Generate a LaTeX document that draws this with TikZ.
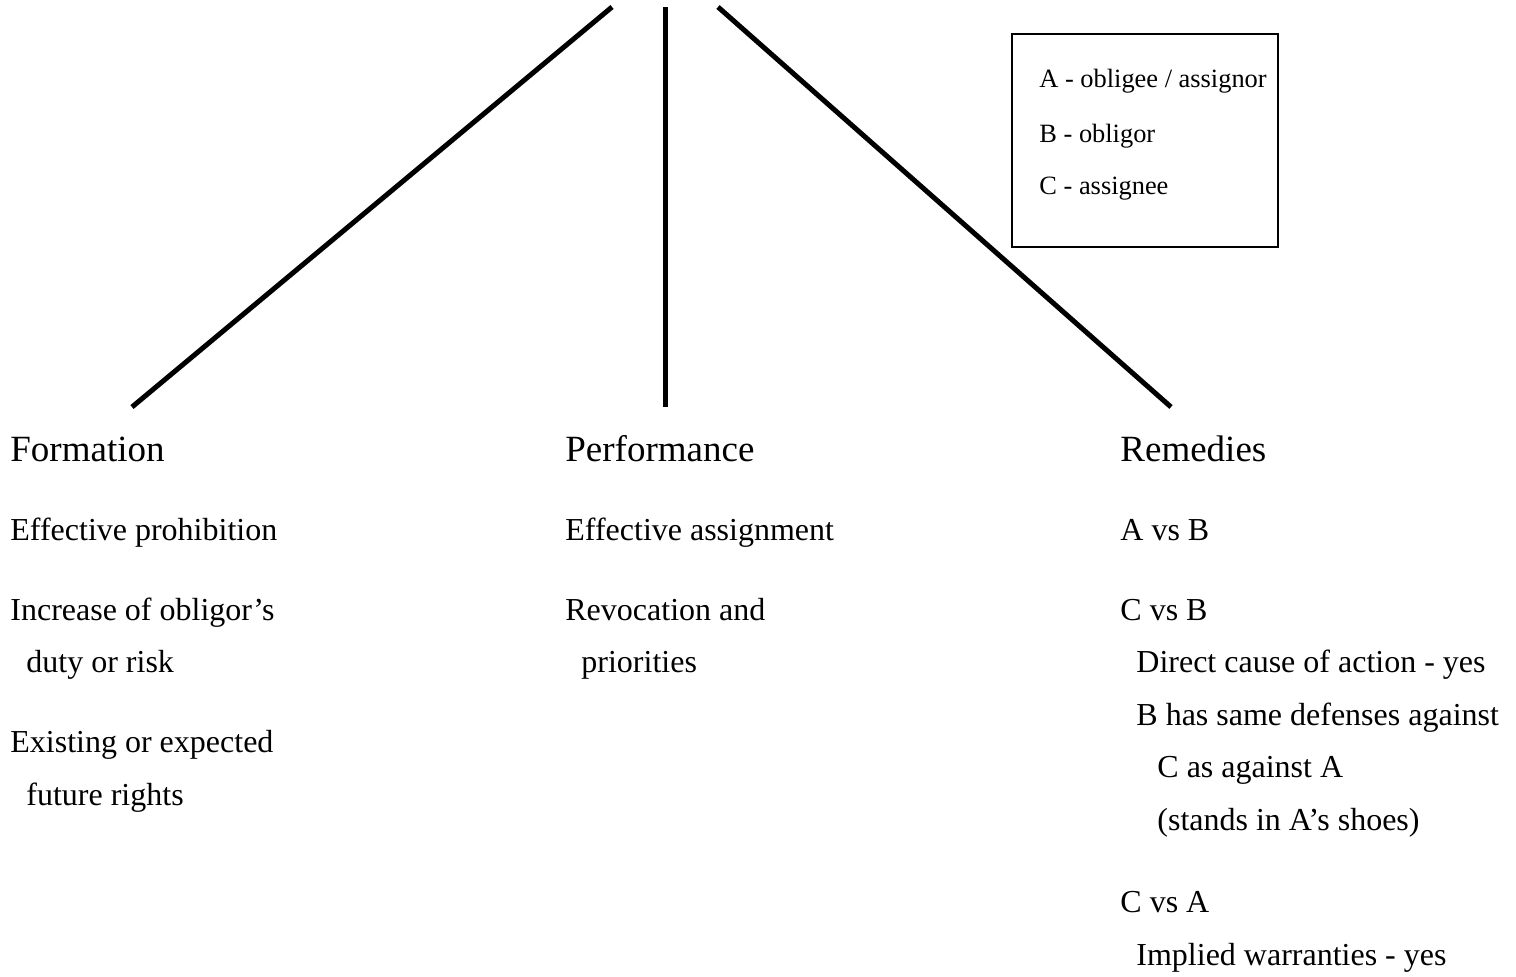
\documentclass[tikz,border=0pt]{standalone}
\usepackage{fontspec}
\setmainfont{Liberation Serif}
\begin{document}
\begin{tikzpicture}[x=0.5pt,y=-0.5pt,
  branch/.style={line width=2.5pt,line cap=butt},
  head/.style={anchor=base west,inner sep=0pt,font=\fontsize{18.5pt}{22pt}\selectfont},
  item/.style={anchor=base west,inner sep=0pt,font=\fontsize{16pt}{19pt}\selectfont},
  key/.style={anchor=base west,inner sep=0pt,font=\fontsize{13.2pt}{16pt}\selectfont},
  keybox/.style={draw,line width=1.2pt,inner sep=0pt,minimum width=133pt,minimum height=106.5pt}]
\useasboundingbox (0,0) rectangle (1516,976);
% branch lines
\coordinate (lt) at (612,7);
\coordinate (lb) at (132,407);
\coordinate (mt) at (665,7);
\coordinate (mb) at (665,407);
\coordinate (rt) at (718,7);
\coordinate (rb) at (1171,407);
\draw[branch] (lt) -- (lb);
\draw[branch] (mt) -- (mb);
\draw[branch] (rt) -- (rb);
% legend
\node[keybox] (legend) at (1145,140.5) {};
\node[key] (ka) at (1039,87) {A - obligee / assignor};
\node[key] (kb) at (1039,142) {B - obligor};
\node[key] (kc) at (1039,194) {C - assignee};
% Formation
\node[head] (form) at (10,461) {Formation};
\node[item] (f1) at (10,540) {Effective prohibition};
\node[item] (f2) at (10,620) {Increase of obligor’s};
\node[item] (f2b) at (26,672) {duty or risk};
\node[item] (f3) at (10,752) {Existing or expected};
\node[item] (f3b) at (26,805) {future rights};
% Performance
\node[head] (perf) at (565,461) {Performance};
\node[item] (p1) at (565,540) {Effective assignment};
\node[item] (p2) at (565,620) {Revocation and};
\node[item] (p2b) at (581,672) {priorities};
% Remedies
\node[head] (rem) at (1120,461) {Remedies};
\node[item] (r1) at (1120,540) {A vs B};
\node[item] (r2) at (1120,620) {C vs B};
\node[item] (r2a) at (1136,672.5) {Direct cause of action - yes};
\node[item] (r2b) at (1136,725) {B has same defenses against};
\node[item] (r2c) at (1157,777.5) {C as against A};
\node[item] (r2d) at (1157,830) {(stands in A’s shoes)};
\node[item] (r3) at (1120,912) {C vs A};
\node[item] (r3a) at (1136,965) {Implied warranties - yes};
\end{tikzpicture}
\end{document}
